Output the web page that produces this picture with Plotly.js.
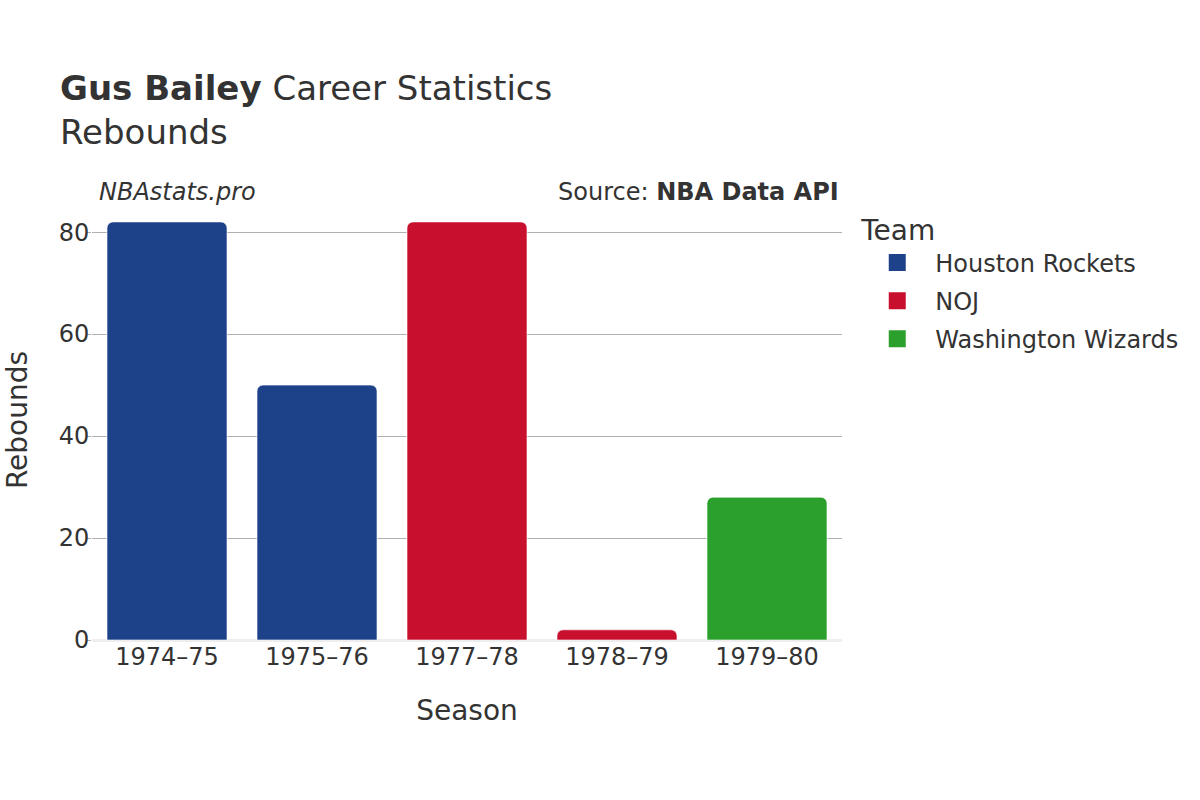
<!DOCTYPE html>
<html>
<head>
<meta charset="utf-8">
<script src="https://cdn.plot.ly/plotly-3.0.1.min.js"></script>
<style>html,body{margin:0;padding:0;background:#fff;}#chart{width:1200px;height:800px;}</style>
</head>
<body>
<div id="chart"></div>
<script>
var seasons = ["1974–75", "1975–76", "1977–78", "1978–79", "1979–80"];
var teams = ["Houston Rockets", "NOJ", "Washington Wizards"];
var teamColors = ["#1d428a", "#c8102e", "#2ca02c"];
var houstonSeasons = ["1974–75", "1975–76"];
var houstonRebounds = [82, 50];
var nojSeasons = ["1977–78", "1978–79"];
var nojRebounds = [82, 2];
var washingtonSeasons = ["1979–80"];
var washingtonRebounds = [28];

var font = "DejaVu Sans, sans-serif";
var seriesX = [houstonSeasons, nojSeasons, washingtonSeasons];
var seriesY = [houstonRebounds, nojRebounds, washingtonRebounds];

var traces = teams.map(function (t, i) {
  return {
    type: "bar",
    name: t,
    legendgroup: "g" + i,
    showlegend: false,
    x: seriesX[i],
    y: seriesY[i],
    marker: {color: teamColors[i], cornerradius: 6, line: {color: "rgba(255,255,255,0.6)", width: 1}}
  };
});
// legend entries (no data drawn), with a thicker outline to enlarge the legend swatch
teams.forEach(function (t, i) {
  traces.push({
    type: "bar",
    name: t,
    legendgroup: "g" + i,
    showlegend: true,
    x: [seriesX[i][0]],
    y: [null],
    marker: {color: teamColors[i], line: {color: teamColors[i], width: 5}}
  });
});

var layout = {
  width: 1200, height: 800,
  paper_bgcolor: "#fff", plot_bgcolor: "#fff",
  font: {family: font, color: "#333", size: 24},
  margin: {l: 92, r: 358, t: 200, b: 160},
  barmode: "relative",
  bargap: 0.2,
  title: {
    text: "<b>Gus Bailey</b> Career Statistics<br>Rebounds",
    x: 0.05, xanchor: "left", y: 0.875, yanchor: "top",
    font: {family: font, size: 34, color: "#333"}
  },
  xaxis: {
    type: "category",
    categoryorder: "array", categoryarray: seasons,
    title: {text: "Season", font: {size: 28, color: "#333"}, standoff: 30},
    tickfont: {size: 24, color: "#333"},
    showgrid: false,
    zeroline: false,
    showline: false
  },
  yaxis: {
    title: {text: "Rebounds", font: {size: 28, color: "#333"}, standoff: 22},
    tickfont: {size: 24, color: "#333"},
    showgrid: true, gridcolor: "#b0b0b0", gridwidth: 1,
    ticks: "outside", ticklen: 5, tickcolor: "#b0b0b0",
    ticklabelstandoff: -8,
    zeroline: true, zerolinecolor: "#eeeeee", zerolinewidth: 3,
    tickvals: [0, 20, 40, 60, 80],
    range: [0, 86.3]
  },
  legend: {
    title: {text: "Team", font: {size: 28, color: "#333"}},
    font: {size: 24, color: "#333"},
    x: 1.023, xanchor: "left", y: 0.991, yanchor: "top",
    itemwidth: 66,
    tracegroupgap: 4,
    traceorder: "grouped"
  },
  annotations: [
    {text: "<i>NBAstats.pro</i>", xref: "paper", yref: "paper", x: 0.006, y: 1.0, xanchor: "left", yanchor: "bottom", yshift: -8, showarrow: false, font: {size: 24, color: "#333"}},
    {text: "Source: <b>NBA Data API</b>", xref: "paper", yref: "paper", x: 0.998, y: 1.0, xanchor: "right", yanchor: "bottom", yshift: -8, showarrow: false, font: {size: 24, color: "#333"}}
  ]
};

Plotly.newPlot("chart", traces, layout, {displayModeBar: false, responsive: false});
</script>
</body>
</html>
